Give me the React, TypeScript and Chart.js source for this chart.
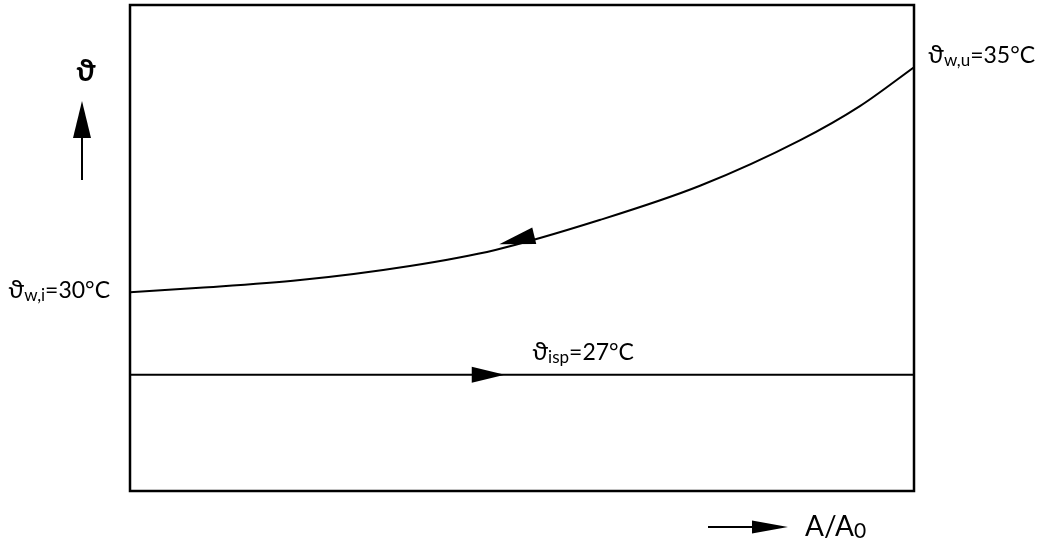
import React, { useEffect, useRef } from "react";
import { Chart, registerables } from "chart.js";

Chart.register(...registerables);

// A/A0 (0..1) and relative temperature level (schematic, 0..10)
const areaRatio = [0, 0.089, 0.217, 0.357, 0.466, 0.6, 0.727, 0.855, 0.931, 1.0];
const wallTemp = [4.09, 4.18, 4.34, 4.63, 4.96, 5.58, 6.28, 7.22, 7.92, 8.72];
const sprayArea = [0, 1];
const sprayTemp = [2.39, 2.39];

const yAxisLabel = "ϑ";
const xAxisLabel = ["A/A", "0"];
const inletLabel = ["ϑ", "w,i", "=30°C"];
const outletLabel = ["ϑ", "w,u", "=35°C"];
const sprayLabel = ["ϑ", "isp", "=27°C"];

const FONT = "Lato, 'DejaVu Sans', sans-serif";

function drawRich(ctx: CanvasRenderingContext2D, parts: string[], x: number, y: number, size: number, subSize: number, align: "left" | "right") {
  const fonts = [`${size + 2}px ${FONT}`, `${subSize}px ${FONT}`, `${size}px ${FONT}`];
  const offs = [0, 3, 0];
  const widths = parts.map((p, i) => { ctx.font = fonts[i]; return ctx.measureText(p).width; });
  const total = widths.reduce((a, b) => a + b, 0);
  let cx = align === "left" ? x : x - total;
  ctx.textAlign = "left";
  ctx.textBaseline = "alphabetic";
  parts.forEach((p, i) => {
    ctx.font = fonts[i];
    ctx.fillText(p, cx, y + offs[i]);
    cx += widths[i];
  });
}

function tri(ctx: CanvasRenderingContext2D, tx: number, ty: number, dx: number, dy: number, len: number, half: number) {
  const n = Math.hypot(dx, dy);
  const ux = dx / n, uy = dy / n;
  const bx = tx - ux * len, by = ty - uy * len;
  ctx.beginPath();
  ctx.moveTo(tx, ty);
  ctx.lineTo(bx - uy * half, by + ux * half);
  ctx.lineTo(bx + uy * half, by - ux * half);
  ctx.closePath();
  ctx.fill();
}

const decor = {
  id: "decor",
  afterDraw(chart: any) {
    const { ctx, chartArea: a, scales } = chart;
    const xs = scales.x, ys = scales.y;
    ctx.save();
    ctx.fillStyle = "#000";
    ctx.strokeStyle = "#000";
    // frame
    ctx.lineWidth = 2.5;
    ctx.strokeRect(a.left, a.top, a.right - a.left, a.bottom - a.top);

    // arrow on spray line (pointing right)
    const sy = ys.getPixelForValue(sprayTemp[0]);
    tri(ctx, xs.getPixelForValue(0.478), sy, 1, 0, 33, 8);

    // arrow on wall curve (pointing to lower A/A0)
    const p1x = xs.getPixelForValue(areaRatio[3]), p1y = ys.getPixelForValue(wallTemp[3]);
    const p2x = xs.getPixelForValue(areaRatio[5]), p2y = ys.getPixelForValue(wallTemp[5]);
    const tx = xs.getPixelForValue(0.471);
    const ty = p1y + (p2y - p1y) * (tx - p1x) / (p2x - p1x);
    tri(ctx, tx, ty, p1x - p2x, p1y - p2y, 36, 8.5);

    // y axis arrow
    const ax = a.left - 48;
    ctx.lineWidth = 2;
    ctx.beginPath();
    ctx.moveTo(ax, a.top + 175);
    ctx.lineTo(ax, a.top + 130);
    ctx.stroke();
    tri(ctx, ax, a.top + 96, 0, -1, 37, 9);
    ctx.font = `bold 30px ${FONT}`;
    ctx.textAlign = "center";
    ctx.textBaseline = "alphabetic";
    ctx.fillText(yAxisLabel, ax + 4, a.top + 76);

    // x axis arrow
    const by = a.bottom + 36;
    ctx.beginPath();
    ctx.moveTo(a.right - 206, by);
    ctx.lineTo(a.right - 160, by);
    ctx.stroke();
    tri(ctx, a.right - 126, by, 1, 0, 36, 6.5);
    ctx.font = `28px ${FONT}`;
    ctx.textAlign = "left";
    ctx.fillText(xAxisLabel[0], a.right - 109, by + 9);
    const w = ctx.measureText(xAxisLabel[0]).width;
    ctx.font = `21px ${FONT}`;
    ctx.fillText(xAxisLabel[1], a.right - 109 + w, by + 11);

    // value labels
    const n = areaRatio.length - 1;
    drawRich(ctx, inletLabel, xs.getPixelForValue(areaRatio[0]) - 20, ys.getPixelForValue(wallTemp[0]) + 6, 23, 17, "right");
    drawRich(ctx, outletLabel, xs.getPixelForValue(areaRatio[n]) + 14, ys.getPixelForValue(wallTemp[n]) - 4, 23, 17, "left");
    drawRich(ctx, sprayLabel, xs.getPixelForValue(0.513), sy - 15, 23, 17, "left");
    ctx.restore();
  },
};

export default function App() {
  const ref = useRef<HTMLCanvasElement>(null);
  useEffect(() => {
    document.body.style.margin = "0";
    const chart = new Chart(ref.current!, {
      type: "scatter",
      data: {
        datasets: [
          {
            data: areaRatio.map((x, i) => ({ x, y: wallTemp[i] })),
            showLine: true,
            borderColor: "#000",
            borderWidth: 2,
            pointRadius: 0,
            cubicInterpolationMode: "monotone",
          },
          {
            data: sprayArea.map((x, i) => ({ x, y: sprayTemp[i] })),
            showLine: true,
            borderColor: "#000",
            borderWidth: 2,
            pointRadius: 0,
          },
        ],
      },
      options: {
        animation: false,
        responsive: false,
        layout: { padding: { left: 130, right: 126, top: 5, bottom: 53 } },
        plugins: { legend: { display: false }, tooltip: { enabled: false } },
        scales: {
          x: { type: "linear", min: 0, max: 1, display: false },
          y: { type: "linear", min: 0, max: 10, display: false },
        },
      },
      plugins: [decor],
    });
    return () => chart.destroy();
  }, []);
  return <canvas ref={ref} width={1040} height={544} style={{ display: "block", background: "#fff" }} />;
}
